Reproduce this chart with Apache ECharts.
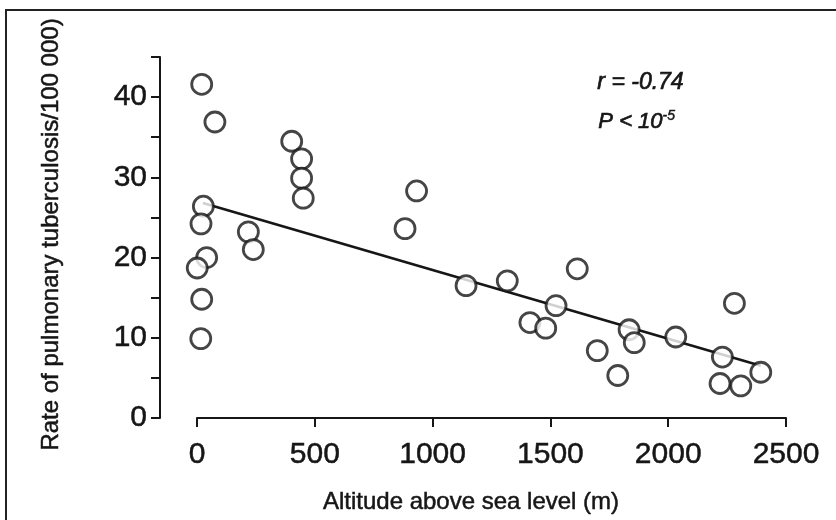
<!DOCTYPE html>
<html>
<head>
<meta charset="utf-8">
<style>
  html, body { margin: 0; padding: 0; background: #ffffff; }
  #chart { width: 836px; height: 520px; }
</style>
<script src="https://cdn.jsdelivr.net/npm/echarts@6/dist/echarts.min.js"></script>
</head>
<body>
<div id="chart"></div>
<script>
// Altitude (m) of each region and its pulmonary tuberculosis rate per 100 000
const altitude = [20, 76, 402, 444, 444, 451, 932, 883, 27, 17, 218, 239, 41, 1, 20, 16,
                  1142, 1317, 1614, 1524, 1413, 1480, 1699, 1786, 1834, 1856, 2032, 2281,
                  2230, 2220, 2308, 2393];
const tbRate   = [41.6, 36.9, 34.5, 32.3, 29.9, 27.4, 28.3, 23.6, 26.4, 24.2, 23.2, 21.0, 20.0, 18.7, 14.8, 9.9,
                  16.5, 17.1, 18.6, 14.0, 11.9, 11.2, 8.4, 5.3, 11.0, 9.4, 10.1, 14.3,
                  7.6, 4.3, 4.0, 5.7];

// Least-squares fit drawn as a straight segment
const fitX = [25, 2393];
const fitY = [26.8, 6.5];

const xTicks = [0, 500, 1000, 1500, 2000, 2500];
const yTickLabels = [0, 10, 20, 30, 40];

const statR = 'r = -0.74';
const statP = 'P < 10';
const statPExp = '-5';

const ink = '#161616';
const font = "'Liberation Sans', Arial, Helvetica, sans-serif";
// a hairline outline gives the printed type a little more weight
const heavy = { textBorderColor: ink, textBorderWidth: 0.5 };

const chart = echarts.init(document.getElementById('chart'), null, { renderer: 'canvas' });

chart.setOption({
  backgroundColor: '#ffffff',
  animation: false,
  grid: { left: 197, right: 50, top: 57, bottom: 102, containLabel: false },
  xAxis: {
    type: 'value',
    min: xTicks[0],
    max: xTicks[xTicks.length - 1],
    interval: 500,
    name: 'Altitude above sea level (m)',
    nameLocation: 'middle',
    nameGap: 72,
    nameTextStyle: Object.assign({ fontFamily: font, fontSize: 24, color: ink, padding: [0, 41, 0, 0] }, heavy),
    axisLine: { show: true, onZero: false, lineStyle: { color: ink, width: 2 } },
    axisTick: { show: true, inside: false, length: 9, lineStyle: { color: ink, width: 2 } },
    axisLabel: Object.assign({ fontFamily: font, fontSize: 30, color: ink, margin: 22,
                 formatter: v => xTicks.includes(v) ? String(v) : '' }, heavy),
    splitLine: { show: false }
  },
  yAxis: {
    type: 'value',
    min: 0,
    max: 45,
    interval: 5,
    offset: 37,
    name: 'Rate of pulmonary tuberculosis/100 000)',
    nameLocation: 'middle',
    nameRotate: 90,
    nameGap: 97,
    nameTextStyle: Object.assign({ fontFamily: font, fontSize: 24, color: ink, padding: [0, 0, 0, 6] }, heavy),
    axisLine: { show: true, onZero: false, lineStyle: { color: ink, width: 2 } },
    axisTick: { show: true, inside: false, length: 9, lineStyle: { color: ink, width: 2 } },
    axisLabel: Object.assign({ fontFamily: font, fontSize: 30, color: ink, margin: 13,
                 formatter: v => yTickLabels.includes(v) ? String(v) : '' }, heavy),
    splitLine: { show: false }
  },
  series: [
    {
      type: 'line',
      data: fitX.map((x, i) => [x, fitY[i]]),
      symbol: 'none',
      lineStyle: { color: ink, width: 2.6 },
      z: 2,
      silent: true
    },
    {
      type: 'scatter',
      data: altitude.map((x, i) => [x, tbRate[i]]),
      symbol: 'circle',
      symbolSize: 20,
      itemStyle: { color: '#ffffff', borderColor: ink, borderWidth: 2.8 },
      z: 3,
      silent: true
    }
  ],
  graphic: [
    {
      type: 'rect',
      shape: { x: 6, y: 10, width: 900, height: 600 },
      style: { fill: 'none', stroke: '#222222', lineWidth: 2 },
      silent: true
    },
    {
      type: 'text',
      left: 597, top: 71,
      style: { text: statR, font: "italic 23px " + font, fill: ink, stroke: ink, lineWidth: 0.7 }
    },
    {
      type: 'text',
      left: 598, top: 109,
      style: {
        text: '{b|' + statP + '}{s|' + statPExp + '}',
        fill: ink, stroke: ink, lineWidth: 0.7,
        rich: {
          b: { font: "italic 22px " + font, fill: ink, stroke: ink, lineWidth: 0.7, verticalAlign: 'bottom' },
          s: { font: "italic 14px " + font, fill: ink, stroke: ink, lineWidth: 0.5, verticalAlign: 'top', padding: [0, 0, 10, 0] }
        }
      }
    }
  ]
});
</script>
</body>
</html>
